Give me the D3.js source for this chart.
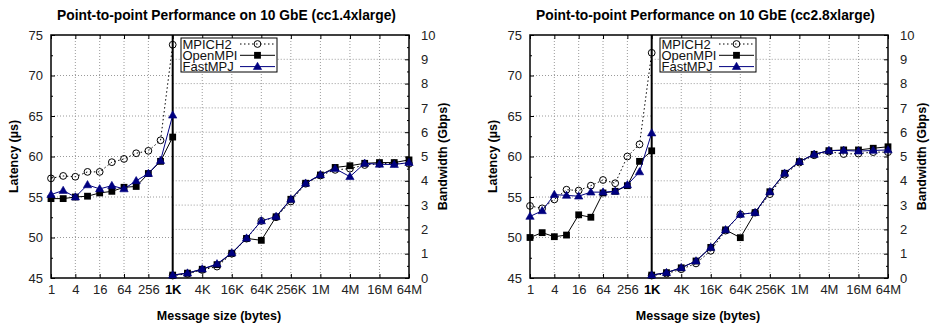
<!DOCTYPE html>
<html>
<head>
<meta charset="utf-8">
<script src="https://cdn.jsdelivr.net/npm/d3@7"></script>
<style>
  body { margin: 0; background: #fff; }
  text { font-family: "Liberation Sans", Arial, Helvetica, sans-serif; }
</style>
</head>
<body>
<div id="chart"></div>
<script>
// message sizes (bytes)
var latSizes = [1, 2, 4, 8, 16, 32, 64, 128, 256, 512, 1024];
var bwSizes = [1024, 2048, 4096, 8192, 16384, 32768, 65536, 131072, 262144, 524288,
  1048576, 2097152, 4194304, 8388608, 16777216, 33554432, 67108864];

var latTicks = [1, 4, 16, 64, 256];
var latTickLabels = ["1", "4", "16", "64", "256"];
var bwTicks = [1024, 4096, 16384, 65536, 262144, 1048576, 4194304, 16777216, 67108864];
var bwTickLabels = ["1K", "4K", "16K", "64K", "256K", "1M", "4M", "16M", "64M"];
var latAxisTicks = [45, 50, 55, 60, 65, 70, 75];
var bwAxisTicks = [0, 1, 2, 3, 4, 5, 6, 7, 8, 9, 10];

var seriesNames = ["MPICH2", "OpenMPI", "FastMPJ"];

// cc1.4xlarge
var lat1Mpich = [57.3, 57.6, 57.5, 58.1, 58.1, 59.3, 59.7, 60.4, 60.7, 62.0, 73.8];
var lat1OpenMpi = [54.8, 54.8, 55.0, 55.1, 55.5, 55.7, 56.2, 56.3, 57.9, 59.4, 62.4];
var lat1FastMpj = [55.3, 55.8, 55.0, 56.5, 56.0, 56.4, 56.0, 57.0, 57.9, 59.5, 65.1];
var bw1Mpich = [0.10, 0.17, 0.33, 0.47, 1.00, 1.62, 2.35, 2.50, 3.15, 3.88, 4.22, 4.45, 4.50, 4.65, 4.70, 4.72, 4.70];
var bw1OpenMpi = [0.12, 0.20, 0.36, 0.55, 1.02, 1.63, 1.55, 2.52, 3.24, 3.90, 4.24, 4.55, 4.62, 4.72, 4.75, 4.75, 4.86];
var bw1FastMpj = [0.12, 0.20, 0.37, 0.58, 1.03, 1.64, 2.35, 2.53, 3.24, 3.90, 4.25, 4.50, 4.17, 4.72, 4.68, 4.67, 4.75];

// cc2.8xlarge
var lat2Mpich = [53.9, 53.6, 54.7, 55.9, 55.8, 56.4, 57.1, 56.7, 60.0, 61.5, 72.8];
var lat2OpenMpi = [50.0, 50.6, 50.1, 50.3, 52.8, 52.5, 55.5, 55.7, 56.4, 59.4, 60.7];
var lat2FastMpj = [52.6, 53.3, 55.3, 55.2, 55.1, 55.6, 55.6, 55.7, 56.5, 58.1, 62.9];
var bw2Mpich = [0.10, 0.18, 0.36, 0.60, 1.12, 1.95, 2.62, 2.69, 3.45, 4.25, 4.75, 5.05, 5.20, 5.10, 5.12, 5.18, 5.18];
var bw2OpenMpi = [0.12, 0.22, 0.42, 0.70, 1.26, 1.98, 1.66, 2.69, 3.55, 4.31, 4.79, 5.09, 5.24, 5.27, 5.27, 5.34, 5.40];
var bw2FastMpj = [0.12, 0.22, 0.42, 0.70, 1.26, 1.98, 2.62, 2.69, 3.55, 4.31, 4.79, 5.09, 5.24, 5.25, 5.22, 5.25, 5.27];

var panels = [
  {title: "Point-to-point Performance on 10 GbE (cc1.4xlarge)", ox: 0,
   lat: [lat1Mpich, lat1OpenMpi, lat1FastMpj], bw: [bw1Mpich, bw1OpenMpi, bw1FastMpj]},
  {title: "Point-to-point Performance on 10 GbE (cc2.8xlarge)", ox: 479,
   lat: [lat2Mpich, lat2OpenMpi, lat2FastMpj], bw: [bw2Mpich, bw2OpenMpi, bw2FastMpj]}
];

var styles = [
  {color: "#000", dash: "1.5,2.5", marker: "circle"},
  {color: "#000", dash: null, marker: "square"},
  {color: "#000080", dash: null, marker: "triangle"}
];

var margin = {left: 51, top: 35};
var width = 358, height = 243, mid = 121.7;

var svg = d3.select("#chart").append("svg")
  .attr("width", 930)
  .attr("height", 325);

function drawMarker(sel, kind, color, x, y) {
  if (kind == "circle") {
    sel.append("circle").attr("cx", x).attr("cy", y).attr("r", 3.4)
      .attr("fill", "none").attr("stroke", color).attr("stroke-width", 1);
  } else if (kind == "square") {
    sel.append("rect").attr("x", x - 3.4).attr("y", y - 3.4)
      .attr("width", 6.8).attr("height", 6.8).attr("fill", color);
  } else {
    sel.append("path").attr("d", d3.symbol(d3.symbolTriangle).size(30)())
      .attr("transform", "translate(" + x + "," + (y + 0.5) + ")")
      .attr("fill", color).attr("stroke", color).attr("stroke-width", 0.6);
  }
}

function drawPanel(p) {
  var g = svg.append("g")
    .attr("transform", "translate(" + (p.ox + margin.left) + "," + margin.top + ")");

  var xLat = d3.scaleLog().base(2).domain([1, 1024]).range([0, mid]);
  var xBw = d3.scaleLog().base(2).domain([1024, 67108864]).range([mid, width]);
  var yLat = d3.scaleLinear().domain([45, 75]).range([height, 0]);
  var yBw = d3.scaleLinear().domain([0, 10]).range([height, 0]);

  // grid, latency half uses left axis, bandwidth half uses right axis
  var grid = g.append("g").attr("stroke", "#9a9a9a").attr("stroke-width", 1)
    .attr("stroke-dasharray", "1,2");
  latTicks.slice(1).forEach(function(t) {
    grid.append("line").attr("x1", xLat(t)).attr("x2", xLat(t)).attr("y1", 0).attr("y2", height);
  });
  bwTicks.slice(1, -1).forEach(function(t) {
    grid.append("line").attr("x1", xBw(t)).attr("x2", xBw(t)).attr("y1", 0).attr("y2", height);
  });
  latAxisTicks.slice(1, -1).forEach(function(t) {
    grid.append("line").attr("x1", 0).attr("x2", mid).attr("y1", yLat(t)).attr("y2", yLat(t));
  });
  bwAxisTicks.slice(1, -1).forEach(function(t) {
    grid.append("line").attr("x1", mid).attr("x2", width).attr("y1", yBw(t)).attr("y2", yBw(t));
  });

  // axes (ticks point inward)
  var axLeft = g.append("g").call(d3.axisLeft(yLat).tickValues(latAxisTicks)
    .tickSize(-4).tickPadding(8).tickFormat(d3.format("d")));
  var axLeftMinor = g.append("g").call(d3.axisLeft(yLat)
    .tickValues(d3.range(47.5, 75, 5)).tickSize(-2).tickFormat(""));
  var axRight = g.append("g").attr("transform", "translate(" + width + ",0)")
    .call(d3.axisRight(yBw).tickValues(bwAxisTicks).tickSize(-4).tickPadding(12)
      .tickFormat(d3.format("d")));
  var axRightMinor = g.append("g").attr("transform", "translate(" + width + ",0)")
    .call(d3.axisRight(yBw).tickValues(d3.range(0.5, 10, 1)).tickSize(-2).tickFormat(""));
  var axBotLat = g.append("g").attr("transform", "translate(0," + height + ")")
    .call(d3.axisBottom(xLat).tickValues(latTicks).tickSize(-4).tickPadding(7)
      .tickFormat(function(d, i) { return latTickLabels[i]; }));
  var axBotBw = g.append("g").attr("transform", "translate(0," + height + ")")
    .call(d3.axisBottom(xBw).tickValues(bwTicks).tickSize(-4).tickPadding(7)
      .tickFormat(function(d, i) { return bwTickLabels[i]; }));
  var axTopLat = g.append("g").call(d3.axisTop(xLat).tickValues(latTicks).tickSize(-4).tickFormat(""));
  var axTopBw = g.append("g").call(d3.axisTop(xBw).tickValues(bwTicks).tickSize(-4).tickFormat(""));

  [axLeft, axLeftMinor, axRight, axRightMinor, axBotLat, axBotBw, axTopLat, axTopBw].forEach(function(a) {
    a.select(".domain").remove();
    a.selectAll("line").attr("stroke", "#000");
    a.selectAll("text").attr("font-size", 13).attr("fill", "#222")
      .attr("font-family", "'Liberation Sans', Arial, sans-serif");
  });
  axBotBw.selectAll("text").filter(function(d) { return d == 1024; })
    .attr("font-weight", "bold").attr("fill", "#000");

  // frame and split line
  g.append("rect").attr("width", width).attr("height", height)
    .attr("fill", "none").attr("stroke", "#000").attr("stroke-width", 1.5);
  g.append("line").attr("x1", mid).attr("x2", mid).attr("y1", 0).attr("y2", height)
    .attr("stroke", "#000").attr("stroke-width", 2);

  // series
  var latLine = d3.line().x(function(d, i) { return xLat(latSizes[i]); }).y(function(d) { return yLat(d); });
  var bwLine = d3.line().x(function(d, i) { return xBw(bwSizes[i]); }).y(function(d) { return yBw(d); });

  styles.forEach(function(s, k) {
    var sg = g.append("g");
    [[p.lat[k], latLine], [p.bw[k], bwLine]].forEach(function(pair) {
      sg.append("path").attr("d", pair[1](pair[0]))
        .attr("fill", "none").attr("stroke", s.color).attr("stroke-width", 1)
        .attr("stroke-dasharray", s.dash);
    });
    p.lat[k].forEach(function(v, i) { drawMarker(sg, s.marker, s.color, xLat(latSizes[i]), yLat(v)); });
    p.bw[k].forEach(function(v, i) { drawMarker(sg, s.marker, s.color, xBw(bwSizes[i]), yBw(v)); });
  });

  // legend
  var lg = g.append("g").attr("transform", "translate(130,3)");
  lg.append("rect").attr("width", 96).attr("height", 34)
    .attr("fill", "#fff").attr("stroke", "#000").attr("stroke-width", 1);
  seriesNames.forEach(function(name, k) {
    var s = styles[k];
    var yy = 6 + k * 11.3;
    lg.append("text").attr("x", 1.5).attr("y", yy + 4.6).attr("font-size", 13)
      .attr("fill", "#111").text(name);
    lg.append("line").attr("x1", 59).attr("x2", 94).attr("y1", yy).attr("y2", yy)
      .attr("stroke", s.color).attr("stroke-width", 1).attr("stroke-dasharray", s.dash);
    drawMarker(lg, s.marker, s.color, 76.5, yy);
  });

  // titles
  g.append("text").attr("x", width / 2 - 3.5).attr("y", -15).attr("text-anchor", "middle")
    .attr("font-size", 13.8).attr("font-weight", "bold").text(p.title);
  g.append("text").attr("x", width / 2 - 11).attr("y", 285).attr("text-anchor", "middle")
    .attr("font-size", 12.5).attr("font-weight", "bold").text("Message size (bytes)");
  g.append("text").attr("transform", "translate(-33," + (height / 2) + ") rotate(-90)")
    .attr("text-anchor", "middle").attr("font-size", 12.5).attr("font-weight", "bold")
    .text("Latency (\u00b5s)");
  g.append("text").attr("transform", "translate(396," + (height / 2) + ") rotate(-90)")
    .attr("text-anchor", "middle").attr("font-size", 12.5).attr("font-weight", "bold")
    .text("Bandwidth (Gbps)");
}

panels.forEach(drawPanel);
</script>
</body>
</html>
